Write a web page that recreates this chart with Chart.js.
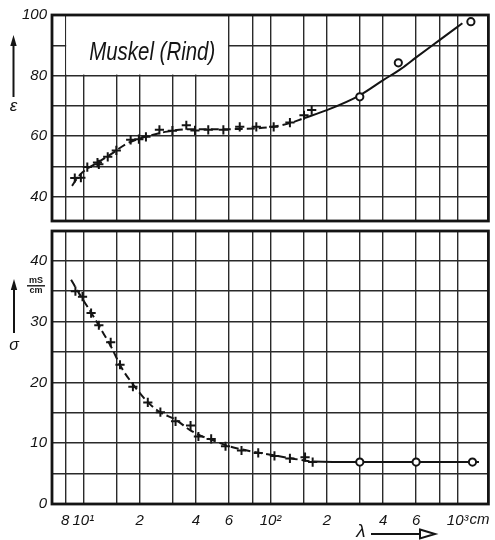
<!DOCTYPE html>
<html><head><meta charset="utf-8">
<script src="https://cdn.jsdelivr.net/npm/chart.js@4.4.1/dist/chart.umd.min.js"></script>
<style>
html,body{margin:0;padding:0;background:#fff;}
#wrap{position:relative;width:495px;height:540px;overflow:hidden;}
canvas{position:absolute;left:0;top:0;}
</style>
</head><body>
<div id="wrap"><canvas id="cTop" width="495" height="540"></canvas><canvas id="cBot" width="495" height="540"></canvas></div>
<script>
// ---------- data ----------
const xGridValues = [8, 10, 15, 20, 30, 40, 60, 80, 100, 150, 200, 300, 400, 600, 800, 1000];
const xTickLabels = ['8', '10¹', '', '2', '', '4', '6', '', '10²', '', '2', '', '4', '6', '', '10³'];

const epsGridValues = [40, 50, 60, 70, 80, 90, 100];
const epsTickLabels = ['40', '', '60', '', '80', '', '100'];
const sigGridValues = [0, 5, 10, 15, 20, 25, 30, 35, 40];
const sigTickLabels = ['0', '', '10', '', '20', '', '30', '', '40'];

// top panel: permittivity epsilon
const lambdaEpsCross = [9.0, 9.7, 10.5, 11.9, 12.1, 13.5, 15.0, 17.9, 19.8, 21.6, 25.5, 29.9, 35.5, 39.5, 46.5, 56, 68.5, 84, 104, 127, 151, 166];
const epsCross       = [46.2, 46.3, 49.8, 51.3, 50.7, 53.2, 55.3, 58.8, 59.0, 59.8, 62.1, 61.8, 63.6, 61.9, 62.1, 62.1, 63.1, 63.1, 63.1, 64.5, 66.9, 68.6];
const lambdaEpsCircle = [300, 482, 1177];
const epsCircle       = [73.0, 84.2, 97.8];
const lambdaEpsCurve = [8.7, 9.5, 10.5, 12, 14, 17, 21.5, 28, 36, 50, 70, 100, 127, 150, 200, 300, 400, 500, 600, 800, 1060];
const epsCurve       = [43.6, 47.0, 49.3, 51.4, 54.0, 57.5, 59.8, 61.5, 62.3, 62.3, 62.4, 63.0, 64.3, 65.9, 68.6, 73.5, 78.5, 82.3, 86.0, 91.7, 97.3];

// bottom panel: conductivity sigma (mS/cm)
const lambdaSigCross = [9.07, 9.9, 11.0, 12.1, 14.0, 15.7, 18.4, 22.1, 25.8, 31.1, 37.4, 41.2, 48.2, 57.5, 70, 86, 105, 127, 153, 168];
const sigCross       = [35.0, 34.1, 31.4, 29.4, 26.6, 22.9, 19.3, 16.7, 15.1, 13.6, 12.9, 11.1, 10.7, 9.5, 8.8, 8.4, 7.9, 7.5, 7.7, 6.9];
const lambdaSigCircle = [300, 600, 1200];
const sigCircle       = [6.9, 6.9, 6.9];
const lambdaSigCurve = [8.6, 9.5, 11, 12.5, 14, 16, 18.5, 22, 26, 31, 37, 42, 50, 60, 75, 100, 130, 170, 300, 600, 1300];
const sigCurve       = [36.9, 34.6, 31.5, 28.6, 26.0, 22.4, 19.6, 16.8, 15.0, 13.9, 12.2, 11.3, 10.4, 9.5, 8.8, 8.1, 7.5, 7.0, 6.9, 6.9, 6.9];

const TITLE = 'Muskel (Rind)';

// ---------- style ----------
const INK = '#141414';
const GRID = '#2a2a2a';
const FONT_FAMILY = "'Liberation Sans Narrow','Liberation Sans','DejaVu Sans',sans-serif";
const TICK_FONT = {family: FONT_FAMILY, size: 15, style: 'italic'};
const X_MIN = 6.8, X_MAX = 1460;
const DASH_END = 170;

function pts(xs, ys) { return xs.map((x, i) => ({x: x, y: ys[i]})); }

function datasets(lc, vc, lo, vo, lcv, vcv) {
  return [
    {data: pts(lc, vc), showLine: false, pointStyle: 'cross', pointRadius: 4.6, pointBorderWidth: 2,
     borderColor: INK, pointBorderColor: INK, order: 0},
    {data: pts(lo, vo), showLine: false, pointStyle: 'circle', pointRadius: 3.6, pointBorderWidth: 2,
     borderColor: INK, pointBorderColor: INK, pointBackgroundColor: '#fff', backgroundColor: '#fff', order: 0},
    {data: pts(lcv, vcv), showLine: true, pointRadius: 0, borderColor: INK, borderWidth: 2,
     cubicInterpolationMode: 'monotone', fill: false, order: 1,
     segment: {borderDash: c => (c.p1.parsed.x <= DASH_END ? [8, 4] : undefined)}}
  ];
}

function xScale(showTicks, h) {
  return {
    type: 'logarithmic', min: X_MIN, max: X_MAX,
    afterBuildTicks: s => { s.ticks = xGridValues.map(v => ({value: v})); },
    afterFit: s => { s.height = h; s.paddingLeft = 0; s.paddingRight = 0; },
    ticks: {display: showTicks, autoSkip: false, maxRotation: 0, minRotation: 0, padding: 8,
      font: TICK_FONT, color: INK, callback: (v, i) => xTickLabels[i]},
    grid: {color: GRID, lineWidth: 1.4, drawTicks: false},
    border: {display: false}
  };
}

function yScale(min, max, vals, labels) {
  return {
    min: min, max: max,
    afterBuildTicks: s => { s.ticks = vals.map(v => ({value: v})); },
    afterFit: s => { s.width = 52; s.paddingTop = 0; s.paddingBottom = 0; },
    ticks: {autoSkip: false, padding: 5, font: TICK_FONT, color: INK, callback: (v, i) => labels[i]},
    grid: {color: GRID, lineWidth: 1.4, drawTicks: false},
    border: {display: false}
  };
}

function arrowUp(ctx, x, yTop, yBot) {
  ctx.beginPath(); ctx.moveTo(x, yBot); ctx.lineTo(x, yTop + 8); ctx.stroke();
  ctx.beginPath(); ctx.moveTo(x, yTop); ctx.lineTo(x - 3.2, yTop + 11); ctx.lineTo(x + 3.2, yTop + 11); ctx.closePath(); ctx.fill();
}

const framePlugin = {
  id: 'frame',
  afterDraw(chart) {
    const {ctx, chartArea: a} = chart;
    ctx.save();
    ctx.lineWidth = 2.8; ctx.strokeStyle = INK;
    ctx.strokeRect(a.left, a.top, a.right - a.left, a.bottom - a.top);
    ctx.restore();
  }
};

const topDecor = {
  id: 'topDecor',
  beforeDatasetsDraw(chart) {
    const {ctx, scales} = chart;
    const l = scales.x.getPixelForValue(8), r = scales.x.getPixelForValue(60);
    const t = chart.chartArea.top, b = scales.y.getPixelForValue(80);
    ctx.save();
    ctx.fillStyle = '#fff';
    ctx.fillRect(l + 1, t, r - l - 2, b - t - 1);
    ctx.fillStyle = INK;
    ctx.font = 'italic 25px ' + FONT_FAMILY;
    ctx.textBaseline = 'alphabetic';
    const w = ctx.measureText(TITLE).width;
    ctx.translate(l + 24, t + 45);
    ctx.scale(126 / w, 1);
    ctx.fillText(TITLE, 0, 0);
    ctx.restore();
  },
  afterDraw(chart) {
    const {ctx} = chart;
    ctx.save();
    ctx.strokeStyle = INK; ctx.fillStyle = INK; ctx.lineWidth = 2;
    arrowUp(ctx, 13.5, 35, 97);
    ctx.font = 'italic 17px ' + FONT_FAMILY;
    ctx.textAlign = 'center'; ctx.textBaseline = 'middle';
    ctx.fillText('ε', 13.5, 106);
    ctx.restore();
  }
};

const botDecor = {
  id: 'botDecor',
  afterDraw(chart) {
    const {ctx, scales} = chart;
    ctx.save();
    ctx.strokeStyle = INK; ctx.fillStyle = INK; ctx.lineWidth = 2;
    arrowUp(ctx, 14, 279, 333);
    ctx.textAlign = 'center'; ctx.textBaseline = 'middle';
    ctx.font = 'italic 16px ' + FONT_FAMILY;
    ctx.fillText('σ', 14, 346);
    ctx.font = 'bold 9px ' + FONT_FAMILY;
    ctx.fillText('mS', 36, 280.5);
    ctx.fillText('cm', 36, 291);
    ctx.lineWidth = 1.4;
    ctx.beginPath(); ctx.moveTo(27, 285.8); ctx.lineTo(45, 285.8); ctx.stroke();
    // "cm" after the 10³ tick label
    ctx.font = 'italic 15px ' + FONT_FAMILY;
    const x1000 = scales.x.getPixelForValue(1000);
    const wl = ctx.measureText('10³').width;
    ctx.textAlign = 'left';
    ctx.fillText('cm', x1000 + wl / 2 + 1, chart.chartArea.bottom + 16);
    // lambda with arrow
    ctx.textAlign = 'center';
    ctx.font = 'italic 19px ' + FONT_FAMILY;
    ctx.fillText('λ', 361, 532);
    ctx.lineWidth = 2;
    ctx.beginPath(); ctx.moveTo(371, 534); ctx.lineTo(420, 534); ctx.stroke();
    ctx.beginPath(); ctx.moveTo(420, 529.5); ctx.lineTo(435, 534); ctx.lineTo(420, 538.5); ctx.closePath(); ctx.stroke();
    ctx.restore();
  }
};

const common = {
  responsive: false, animation: false, devicePixelRatio: 1,
  plugins: {legend: {display: false}, tooltip: {enabled: false}, title: {display: false}},
  events: []
};

new Chart(document.getElementById('cTop'), {
  type: 'scatter',
  data: {datasets: datasets(lambdaEpsCross, epsCross, lambdaEpsCircle, epsCircle, lambdaEpsCurve, epsCurve)},
  options: Object.assign({}, common, {
    layout: {padding: {top: 15, right: 5, bottom: 319, left: 0}},
    scales: {x: xScale(false, 0), y: yScale(32, 100, epsGridValues, epsTickLabels)}
  }),
  plugins: [framePlugin, topDecor]
});

new Chart(document.getElementById('cBot'), {
  type: 'scatter',
  data: {datasets: datasets(lambdaSigCross, sigCross, lambdaSigCircle, sigCircle, lambdaSigCurve, sigCurve)},
  options: Object.assign({}, common, {
    layout: {padding: {top: 231, right: 5, bottom: 0, left: 0}},
    scales: {x: xScale(true, 36), y: yScale(0, 44.9, sigGridValues, sigTickLabels)}
  }),
  plugins: [framePlugin, botDecor]
});
</script>
</body></html>
